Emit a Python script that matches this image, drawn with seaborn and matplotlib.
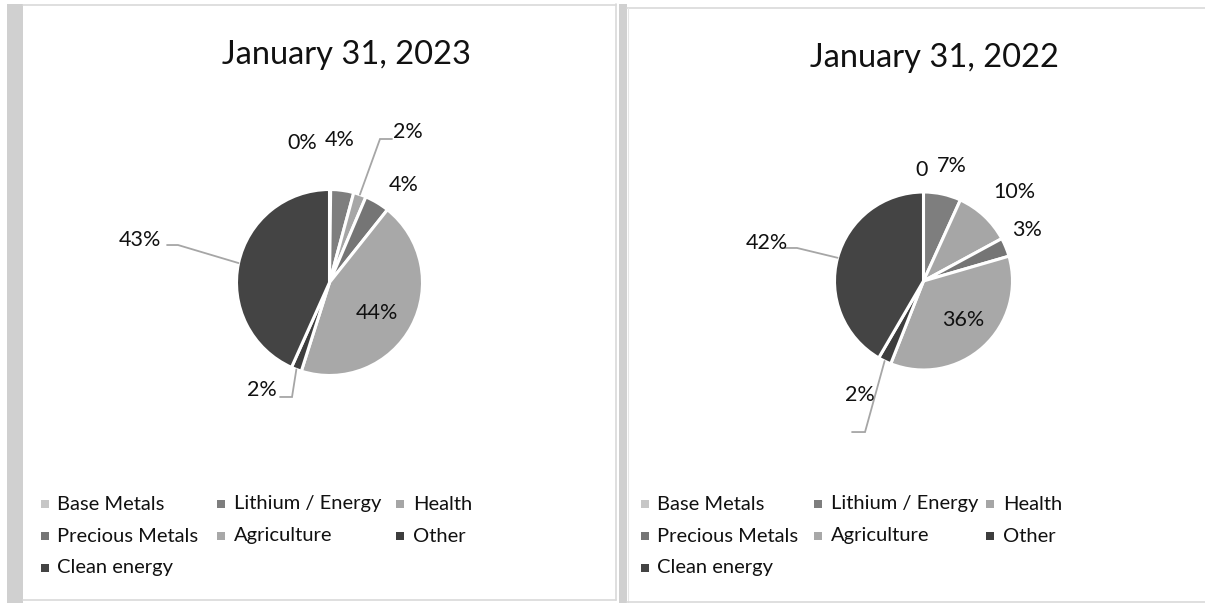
import numpy as np
import matplotlib
matplotlib.use("Agg")
import matplotlib.pyplot as plt
from matplotlib.patches import Rectangle
from matplotlib.lines import Line2D
import seaborn as sns

# ---------------- data ----------------
categories = ["Base Metals", "Lithium / Energy", "Health", "Precious Metals",
              "Agriculture", "Other", "Clean energy"]
values_2023 = [0.2, 4.0, 2.2, 4.3, 44.2, 1.8, 43.3]
values_2022 = [0.0, 6.8, 10.3, 3.4, 35.5, 2.4, 41.6]
labels_2023 = ["0%", "4%", "2%", "4%", "44%", "2%", "43%"]
labels_2022 = ["0", "7%", "10%", "3%", "36%", "2%", "42%"]
titles = ["January 31, 2023", "January 31, 2022"]
colors = ["#c6c6c6", "#7e7e7e", "#a6a6a6", "#757575", "#a8a8a8", "#3d3d3d", "#444444"]

# ---------------- style / layout ----------------
sns.set_theme(style="white")
plt.rcParams['font.family'] = ['Lato', 'DejaVu Sans']
palette = sns.color_palette(colors)

W, H = 1205, 603
fig = plt.figure(figsize=(W / 100, H / 100), dpi=100, facecolor="white")

def fx(px):
    return px / W

def fy(py):
    return 1 - py / H

def hline(x0, x1, y, color="#d9d9d9", lw=1.2):
    fig.add_artist(Line2D([fx(x0), fx(x1)], [fy(y), fy(y)], transform=fig.transFigure,
                          color=color, lw=lw))

def vline(x, y0, y1, color="#d9d9d9", lw=1.2):
    fig.add_artist(Line2D([fx(x), fx(x)], [fy(y0), fy(y1)], transform=fig.transFigure,
                          color=color, lw=lw))

def rect_px(x0, y0, x1, y1, color):
    fig.add_artist(Rectangle((fx(x0), fy(y1)), (x1 - x0) / W, (y1 - y0) / H,
                             transform=fig.transFigure, color=color, lw=0))

# panel frames
rect_px(7, 4, 23, 603, "#d0d0d0")
rect_px(619, 4, 627, 603, "#d0d0d0")
hline(23, 616, 4.8)
vline(615.5, 4, 600)
hline(23, 616, 599.5)
hline(627, 1205, 8.3)
vline(628, 8, 602, color="#e6e6e6", lw=0.8)
hline(627, 1205, 601.8)

panels = [
    dict(values=values_2023, labels=labels_2023, title=titles[0],
         cx=329.5, cy=282.5, R=93, title_xy=(346, 55),
         lab_r=[1.53, 1.54, 1.82, 1.32, 0.61, 1.36, 2.09],
         lab_shift=[-11.2, -3.7, 8.4, 6.6, 4.6, 11.2, 0.5],
         leaders={2: [(0.543, 1.543), (0.672, 1.543)],
                  5: [(-0.403, -1.231), (-0.532, -1.231)],
                  6: [(-1.629, 0.403), (-1.747, 0.403)]},
         leg_mx=[45, 221, 400], leg_tx=[57, 234, 413], leg_y=[504, 536, 568]),
    dict(values=values_2022, labels=labels_2022, title=titles[1],
         cx=923.5, cy=281, R=89, title_xy=(934, 58),
         lab_r=[1.25, 1.33, 1.43, 1.30, 0.62, 1.47, 1.81],
         lab_shift=[-0.8, 1.7, 2.8, -3.9, -3.1, 3.2, -1.5],
         leaders={5: [(-0.657, -1.697), (-0.803, -1.697)],
                  6: [(-1.421, 0.371), (-1.556, 0.371)]},
         leg_mx=[645, 818, 990], leg_tx=[657, 831, 1003], leg_y=[504, 536, 568]),
]

L = 2.6
text_color = "#111111"
for p in panels:
    side = 2 * L * p["R"]
    ax = fig.add_axes([(p["cx"] - side / 2) / W, (H - p["cy"] - side / 2) / H,
                       side / W, side / H])
    vals = np.array(p["values"], dtype=float)
    ax.pie(vals, colors=palette, startangle=90, counterclock=False, radius=1,
           wedgeprops=dict(edgecolor="white", linewidth=2.2))
    ax.set_xlim(-L, L)
    ax.set_ylim(-L, L)
    ax.set_aspect("equal")
    ax.axis("off")

    frac = vals / vals.sum()
    cum = np.concatenate([[0], np.cumsum(frac)])
    mids = (cum[:-1] + cum[1:]) / 2 * 360.0
    for i, lab in enumerate(p["labels"]):
        th = np.deg2rad(mids[i] + p["lab_shift"][i])
        r = p["lab_r"][i]
        ax.text(r * np.sin(th), r * np.cos(th), lab, ha="center", va="center",
                fontsize=15.5, color=text_color, clip_on=False)
        if i in p["leaders"]:
            tm = np.deg2rad(mids[i])
            pts = [(np.sin(tm), np.cos(tm))] + p["leaders"][i]
            xs, ys = zip(*pts)
            ax.plot(xs, ys, color="#a6a6a6", lw=1.3, clip_on=False,
                    solid_joinstyle="miter")

    fig.text(fx(p["title_xy"][0]), fy(p["title_xy"][1]), p["title"], ha="center",
             va="center", fontsize=23.5, color=text_color)

    for i, cat in enumerate(categories):
        row, col = divmod(i, 3)
        mx, tx, y = p["leg_mx"][col], p["leg_tx"][col], p["leg_y"][row]
        rect_px(mx - 4, y - 4, mx + 4, y + 4, palette[i])
        fig.text(fx(tx), fy(y), cat, ha="left", va="center", fontsize=14.5,
                 color=text_color)

fig.savefig("out.png", dpi=100, facecolor="white")
